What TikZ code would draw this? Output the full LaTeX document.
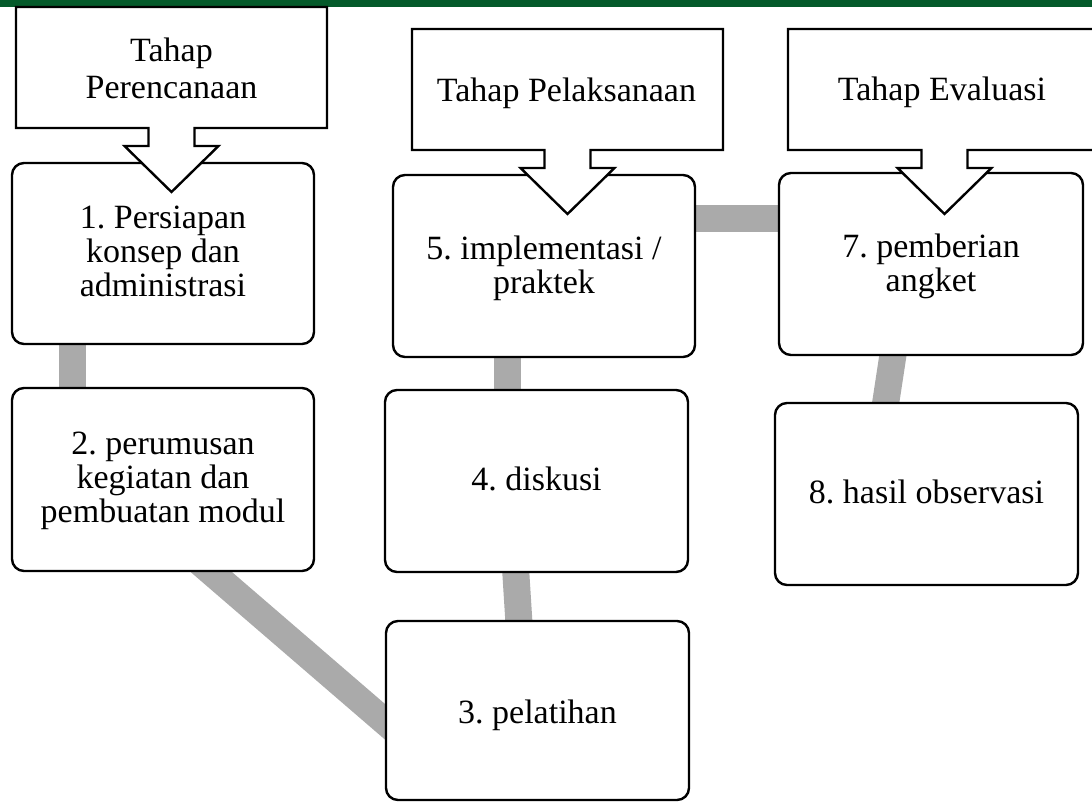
\documentclass[tikz,border=0pt]{standalone}
\usepackage{fontspec}
\setmainfont{Liberation Serif}
\usetikzlibrary{calc,backgrounds}
\definecolor{barGreen}{RGB}{4,90,42}
\definecolor{connGray}{RGB}{170,170,170}
\frenchspacing
\begin{document}
\begin{tikzpicture}[x=1pt,y=-1pt,
  box/.style={draw=black, line width=2.4pt, rounded corners=12pt, fill=white, inner sep=0pt},
  conn/.style={draw=connGray, line width=27pt},
  calloutshape/.style={draw=black, line width=2.4pt, fill=white, line join=miter},
  lbl/.style={font=\fontsize{34}{34}\selectfont, align=center, inner sep=0pt, anchor=north},
  clbl/.style={font=\fontsize{34}{37}\selectfont, align=center, inner sep=0pt, anchor=north}]
\useasboundingbox (0,0) rectangle (1092,802);

% boxes
\node[box, minimum width=302pt, minimum height=181pt] (b1) at (163,253.5) {};
\node[box, minimum width=302pt, minimum height=183pt] (b2) at (163,479.5) {};
\node[box, minimum width=303pt, minimum height=179pt] (b3) at (537.5,710.5) {};
\node[box, minimum width=303pt, minimum height=182pt] (b4) at (536.5,481) {};
\node[box, minimum width=302pt, minimum height=182pt] (b5) at (544,266) {};
\node[box, minimum width=304pt, minimum height=182pt] (b7) at (931,264) {};
\node[box, minimum width=303pt, minimum height=182pt] (b8) at (926.5,494) {};

% connectors behind the boxes
\begin{scope}[on background layer]
  \fill[white] (0,0) rectangle (1092,802);
  \draw[conn] ($(b1.south west)+(62,-10)$) -- ($(b2.north west)+(62,10)$);
  \draw[conn] ($(b2.south west)+(189.2,-9.9)$) -- ($(b3.north west)+(12.3,112.4)$);
  \draw[conn] ($(b4.south west)+(131.4,-10)$) -- ($(b3.north west)+(134.6,10)$);
  \draw[conn] ($(b5.south west)+(116,-10)$) -- ($(b4.north west)+(124,10)$);
  \draw[conn] ($(b5.north east)+(-10,44.5)$) -- ($(b7.north west)+(10,46.5)$);
  \draw[conn] ($(b7.south west)+(116.5,-10)$) -- ($(b8.north west)+(110.5,10)$);
\end{scope}

% top bar
\fill[barGreen] (0,0) rectangle (1092,7);

% callouts
\draw[calloutshape] (16,7) -- (327,7) -- (327,128) -- (194.5,128) -- (194.5,146) -- (218.5,146)
  -- (171.5,192) -- (124.5,146) -- (148.5,146) -- (148.5,128) -- (16,128) -- cycle;
\draw[calloutshape] (412,29) -- (723,29) -- (723,150) -- (590.5,150) -- (590.5,168) -- (614.5,168)
  -- (567.5,214) -- (520.5,168) -- (544.5,168) -- (544.5,150) -- (412,150) -- cycle;
\draw[calloutshape] (788,29) -- (1101,29) -- (1101,150) -- (967.5,150) -- (967.5,168) -- (991.5,168)
  -- (944.5,214) -- (897.5,168) -- (921.5,168) -- (921.5,150) -- (788,150) -- cycle;

\node[clbl] (t1) at (171.5,38) {Tahap\\Perencanaan};
\node[clbl] (t2) at (566.5,78) {Tahap Pelaksanaan};
\node[clbl] (t3) at (942,77) {Tahap Evaluasi};

% box texts
\node[lbl] (l1) at (163,206) {1. Persiapan\\konsep dan\\administrasi};
\node[lbl] (l2) at (163,432) {2. perumusan\\kegiatan dan\\pembuatan modul};
\node[lbl] (l3) at (537.5,700) {3. pelatihan};
\node[lbl] (l4) at (536.5,467) {4. diskusi};
\node[lbl] (l5) at (544,236) {5. implementasi /\\praktek};
\node[lbl] (l7) at (931,234) {7. pemberian\\angket};
\node[lbl] (l8) at (926.5,480) {8. hasil observasi};
\end{tikzpicture}
\end{document}
